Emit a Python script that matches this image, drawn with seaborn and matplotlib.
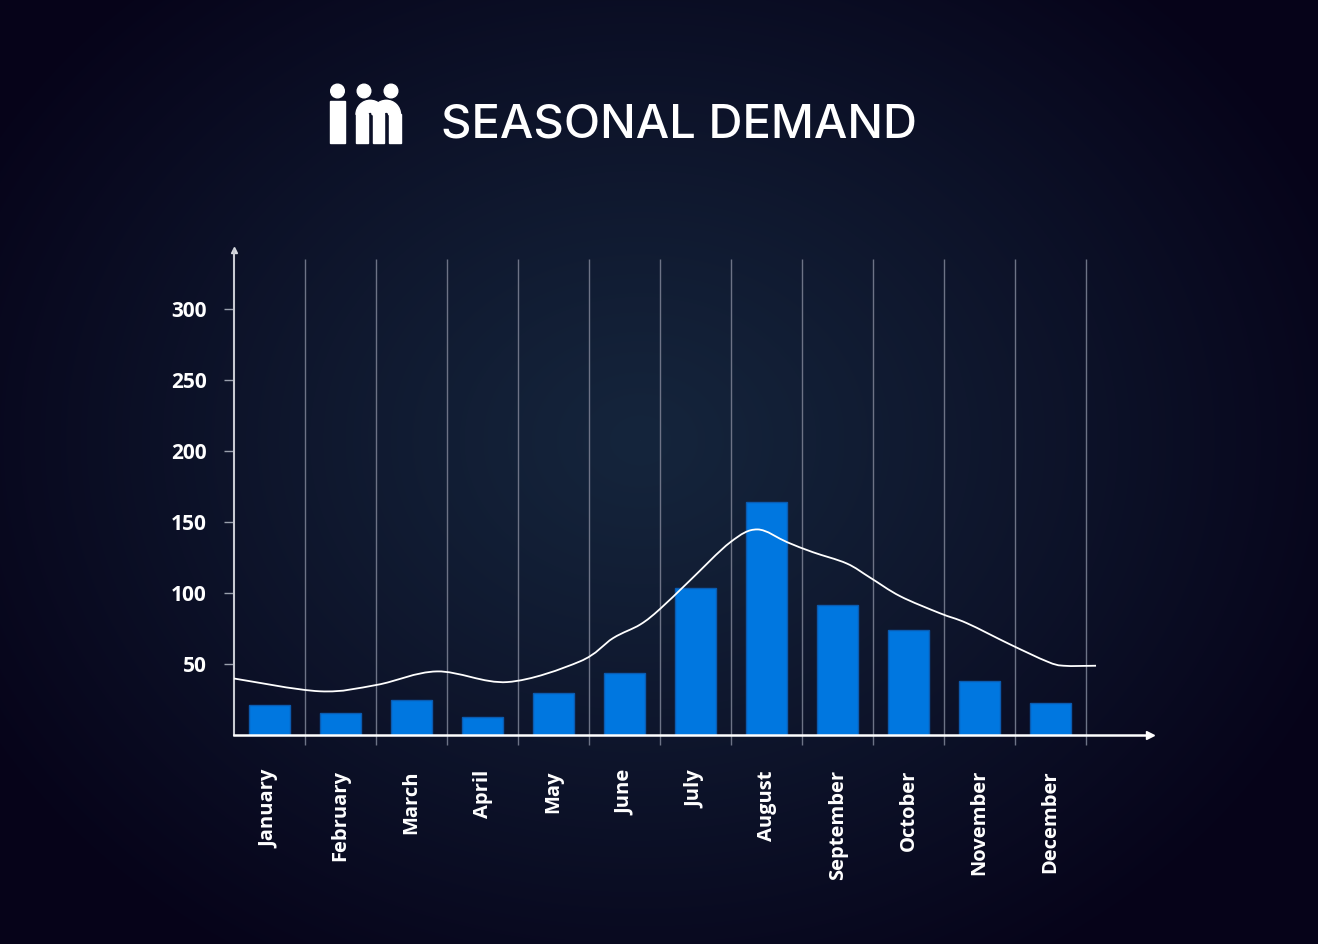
import numpy as np
import pandas as pd
import seaborn as sns
import matplotlib.pyplot as plt
from matplotlib.patches import Rectangle, Circle, Wedge, PathPatch
from matplotlib.path import Path

months = ['January', 'February', 'March', 'April', 'May', 'June', 'July',
          'August', 'September', 'October', 'November', 'December']
demand = [21, 15.5, 25, 13, 30, 44, 104, 164, 92, 74, 38, 22.5]

# trend curve (x in category units, 0 = January)
trend_pos = [-0.5, 0.71, 1.51, 2.36, 3.35, 4.37, 4.84, 5.22, 5.5, 5.92, 6.49,
             6.87, 7.29, 7.65, 8.13, 8.46, 8.88, 9.44, 9.82, 10.43, 10.95,
             11.18, 11.64]
trend_val = [40, 31, 35.5, 45, 37.5, 52, 68.5, 78, 89, 109, 136,
             145, 136, 129, 121, 111, 98, 86, 79, 64, 52,
             49, 49]

y_ticks = [50, 100, 150, 200, 250, 300]


def smooth_path(xs, ys):
    # catmull-rom through the read points, drawn as bezier segments
    p = np.column_stack([xs, ys]).astype(float)
    p = np.vstack([p[0], p, p[-1]])
    verts = [p[1]]
    codes = [Path.MOVETO]
    for i in range(1, len(p) - 2):
        c1 = p[i] + (p[i + 1] - p[i - 1]) / 6
        c2 = p[i + 1] - (p[i + 2] - p[i]) / 6
        verts += [c1, c2, p[i + 1]]
        codes += [Path.CURVE4] * 3
    return Path(verts, codes)


W, H = 1318, 944
fig = plt.figure(figsize=(W / 100, H / 100), dpi=100)

# background radial glow
bg = fig.add_axes([0, 0, 1, 1], zorder=0)
yy, xx = np.mgrid[0:H, 0:W]
r = np.sqrt(((xx - 640) / 760) ** 2 + ((yy - 440) / 620) ** 2)
t = np.clip(r, 0, 1)[..., None] ** 1.1
inner = np.array([0x15, 0x25, 0x3c]) / 255
outer = np.array([0x06, 0x03, 0x19]) / 255
bg.imshow(inner * (1 - t) + outer * t, extent=[0, 1, 0, 1], aspect='auto')
bg.set_axis_off()

df = pd.DataFrame({'month': months, 'demand': demand})

ax = fig.add_axes([234 / W, 1 - 735.3 / H, 916 / W, 485.3 / H], zorder=1)
ax.patch.set_alpha(0)
sns.barplot(data=df, x='month', y='demand', order=months, color='#0077e0',
            saturation=1, width=0.58, edgecolor='#0b5bb0', linewidth=1, ax=ax,
            zorder=2)
ax.add_patch(PathPatch(smooth_path(trend_pos, trend_val), facecolor='none',
                       edgecolor='white', linewidth=1.3, zorder=3))

ax.set_xlim(-0.5, 12.4)
ax.set_ylim(0, 341.8)
ax.vlines([i + 0.5 for i in range(len(months))], -6.8, 335.4,
          colors='#6d7386', linewidth=1, clip_on=False, zorder=1)

for s in ['top', 'right']:
    ax.spines[s].set_visible(False)
ax.spines['left'].set_color('#c8cad2')
ax.spines['left'].set_linewidth(1.5)
ax.spines['bottom'].set_color('white')
ax.spines['bottom'].set_linewidth(1.8)
ax.plot(0, 1, '^', color='#d8dae0', ms=5, transform=ax.transAxes, clip_on=False)
ax.plot(1, 0, '>', color='white', ms=6, transform=ax.transAxes, clip_on=False)

ax.set_xticks(range(len(months)))
ax.set_xticklabels(months, rotation=90, fontsize=14.5, fontweight='bold',
                   family='Open Sans', color='white')
ax.tick_params(axis='x', length=0, pad=25)
ax.set_yticks(y_ticks)
ax.set_yticklabels(y_ticks, fontsize=15, fontweight='bold',
                   family='Open Sans', color='white')
ax.tick_params(axis='y', length=7.5, width=1, color='#9aa0ad', pad=12)
ax.set_xlabel('')
ax.set_ylabel('')

# title + logo
fig.text(441 / W, 1 - 137.5 / H, 'SEASONAL DEMAND', fontsize=34,
         family='Inter', fontweight='medium', color='white', va='baseline')

lg = fig.add_axes([0, 0, 1, 1], zorder=2)
lg.set_xlim(0, W)
lg.set_ylim(H, 0)
lg.set_axis_off()
lg.patch.set_alpha(0)
lg.add_patch(Rectangle((330, 101), 15, 42, color='white'))
lg.add_patch(Rectangle((356, 114), 12, 29, color='white'))
lg.add_patch(Rectangle((372.5, 114), 11.5, 29, color='white'))
lg.add_patch(Rectangle((388.5, 114), 12, 29, color='white'))
lg.add_patch(Wedge((370.2, 114.5), 14.2, 180, 360, width=11.8, color='white'))
lg.add_patch(Wedge((386.3, 114.5), 14.2, 180, 360, width=11.8, color='white'))
for cx in [337.5, 364, 391]:
    lg.add_patch(Circle((cx, 91), 6.8, color='white'))

fig.savefig('out.png', dpi=100)
